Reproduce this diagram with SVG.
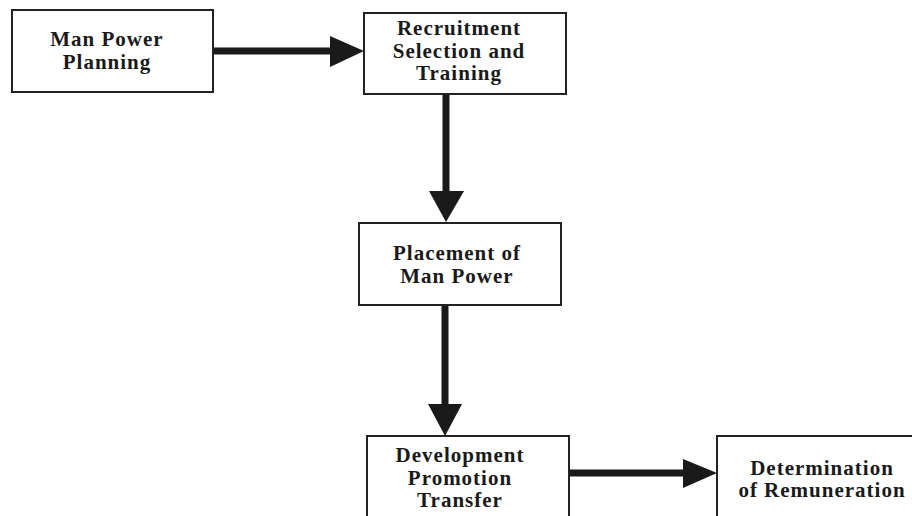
<svg xmlns="http://www.w3.org/2000/svg" width="912" height="516" viewBox="0 0 912 516">
<style>
.box{fill:#fff;stroke:#222;stroke-width:2}
.t{font-family:"Liberation Serif","Times New Roman",serif;font-weight:bold;font-size:21px;letter-spacing:1px;fill:#1a1a1a;text-anchor:middle}
.c{stroke:#1a1a1a;stroke-width:7;fill:none}
.h{fill:#1a1a1a}
</style>
<rect width="912" height="516" fill="#fff"/>
<g id="connectors">
<line class="c" x1="213" y1="51" x2="332" y2="51"/>
<polygon class="h" points="330,36 364,51 330,67"/>
<line class="c" x1="446" y1="94" x2="446" y2="193"/>
<polygon class="h" points="429,191 464,191 446,222"/>
<line class="c" x1="445" y1="305" x2="445" y2="406"/>
<polygon class="h" points="428,404 462,404 445,436"/>
<line class="c" x1="569" y1="473" x2="685" y2="473"/>
<polygon class="h" points="683,459 717,473 683,488"/>
</g>
<g id="n1">
<rect class="box" x="12" y="10" width="201" height="82"/>
<text class="t" x="107" y="46">Man Power</text>
<text class="t" x="107" y="69">Planning</text>
</g>
<g id="n2">
<rect class="box" x="364" y="13" width="202" height="81"/>
<text class="t" x="459" y="35">Recruitment</text>
<text class="t" x="459" y="58">Selection and</text>
<text class="t" x="459" y="80">Training</text>
</g>
<g id="n3">
<rect class="box" x="359" y="223" width="202" height="82"/>
<text class="t" x="457" y="260">Placement of</text>
<text class="t" x="457" y="283">Man Power</text>
</g>
<g id="n4">
<rect class="box" x="367" y="436" width="202" height="90"/>
<text class="t" x="460" y="462">Development</text>
<text class="t" x="460" y="485">Promotion</text>
<text class="t" x="460" y="507">Transfer</text>
</g>
<g id="n5">
<rect class="box" x="717" y="436" width="205" height="90"/>
<text class="t" x="822" y="475">Determination</text>
<text class="t" x="822" y="497">of Remuneration</text>
</g>
</svg>
